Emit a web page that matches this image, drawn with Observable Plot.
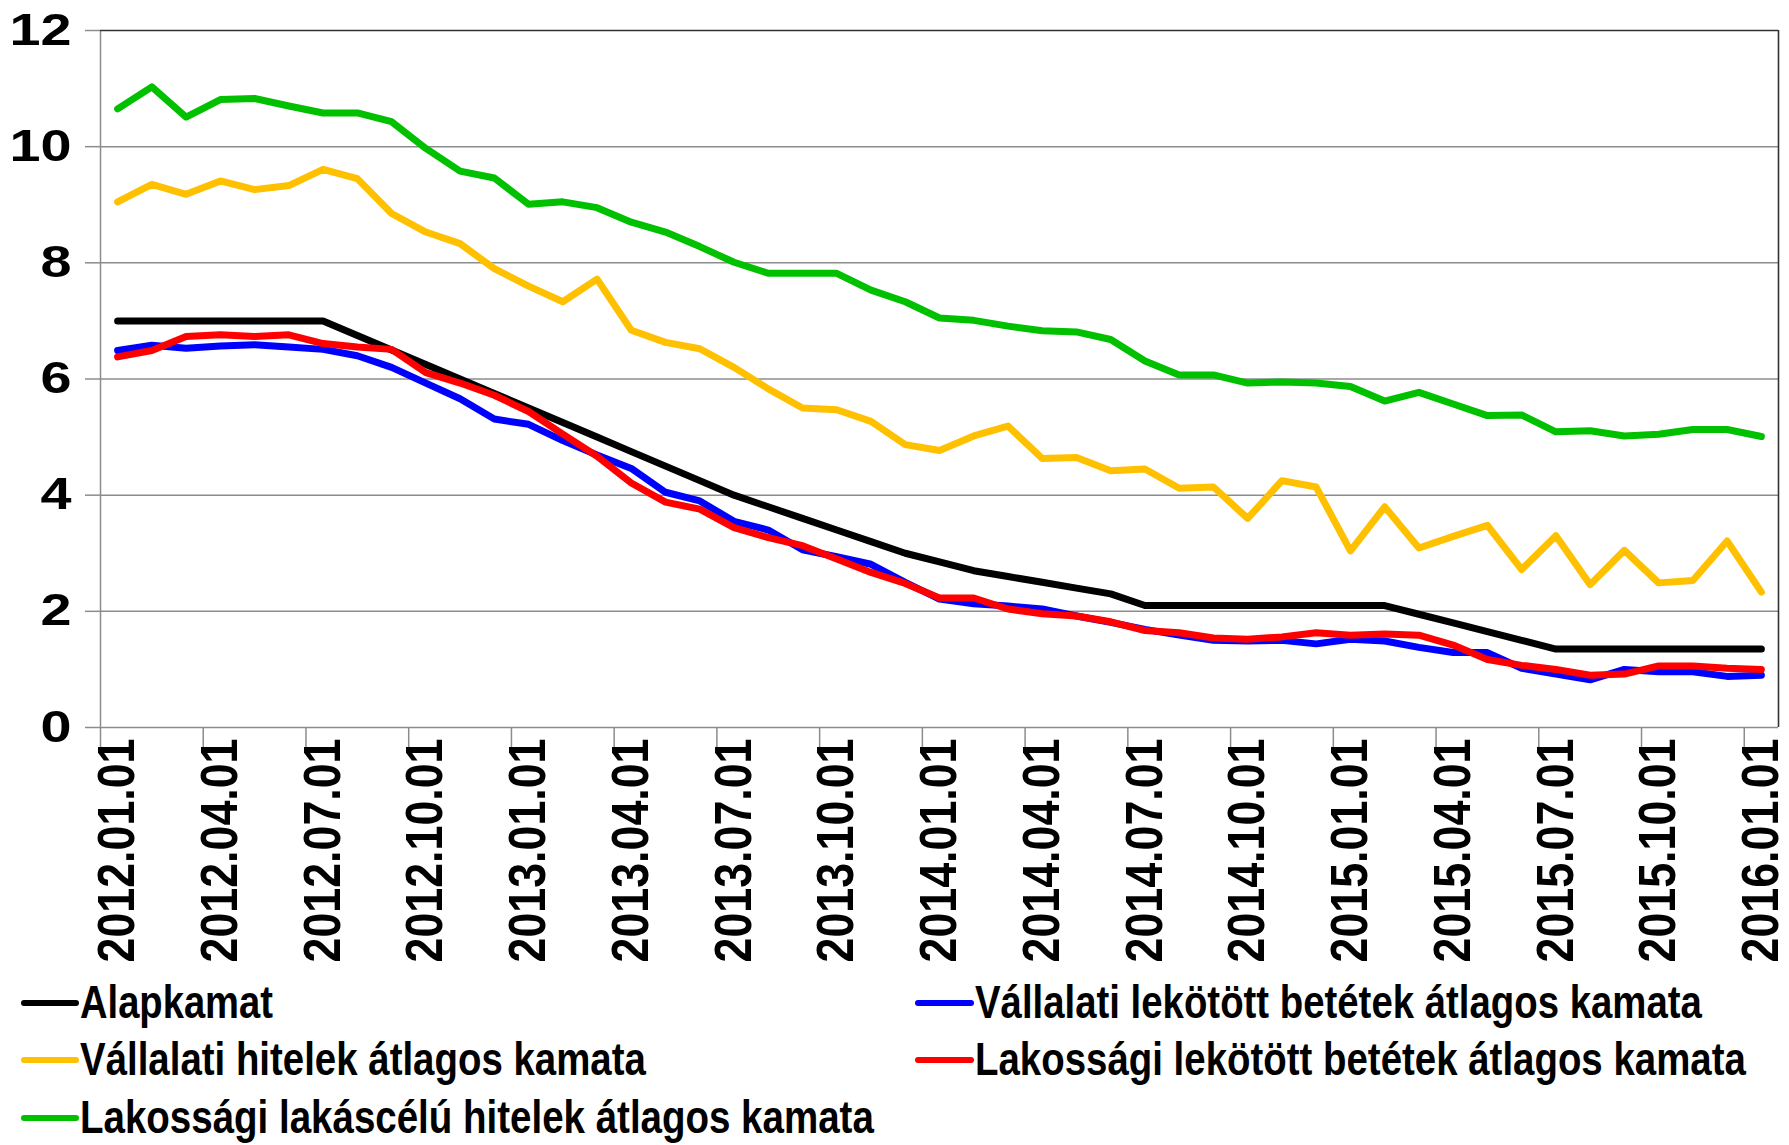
<!DOCTYPE html>
<html><head><meta charset="utf-8">
<script src="https://cdn.jsdelivr.net/npm/d3@7"></script>
<script src="https://cdn.jsdelivr.net/npm/@observablehq/plot@0.6"></script>
<style>
html,body{margin:0;padding:0;background:#fff;}
#chart svg, #legend svg{display:block}
</style></head><body><div id="chart"></div><div id="legend"></div><script>
const months = [
"2012.01.01","2012.02.01","2012.03.01","2012.04.01","2012.05.01","2012.06.01","2012.07.01","2012.08.01","2012.09.01","2012.10.01","2012.11.01","2012.12.01",
"2013.01.01","2013.02.01","2013.03.01","2013.04.01","2013.05.01","2013.06.01","2013.07.01","2013.08.01","2013.09.01","2013.10.01","2013.11.01","2013.12.01",
"2014.01.01","2014.02.01","2014.03.01","2014.04.01","2014.05.01","2014.06.01","2014.07.01","2014.08.01","2014.09.01","2014.10.01","2014.11.01","2014.12.01",
"2015.01.01","2015.02.01","2015.03.01","2015.04.01","2015.05.01","2015.06.01","2015.07.01","2015.08.01","2015.09.01","2015.10.01","2015.11.01","2015.12.01",
"2016.01.01"];
const tickLabels = ["2012.01.01","2012.04.01","2012.07.01","2012.10.01","2013.01.01","2013.04.01","2013.07.01","2013.10.01",
"2014.01.01","2014.04.01","2014.07.01","2014.10.01","2015.01.01","2015.04.01","2015.07.01","2015.10.01","2016.01.01"];
const yTicks = [0,2,4,6,8,10,12];

const seriesNames = ["Alapkamat","Vállalati lekötött betétek átlagos kamata","Vállalati hitelek átlagos kamata","Lakossági lekötött betétek átlagos kamata","Lakossági lakáscélú hitelek átlagos kamata"];
const seriesColors = ["#000000","#0000FF","#FFC000","#FF0000","#00C000"];

const alapkamat = [7,7,7,7,7,7,7,6.75,6.5,6.25,6.0,5.75,5.5,5.25,5.0,4.75,4.5,4.25,4.0,3.8,3.6,3.4,3.2,3.0,2.85,2.7,2.6,2.5,2.4,2.3,2.1,2.1,2.1,2.1,2.1,2.1,2.1,2.1,1.95,1.8,1.65,1.5,1.35,1.35,1.35,1.35,1.35,1.35,1.35];
const vallalatiBetet = [6.49,6.58,6.53,6.57,6.59,6.55,6.51,6.40,6.20,5.93,5.66,5.31,5.22,4.94,4.69,4.46,4.05,3.90,3.55,3.40,3.06,2.94,2.81,2.50,2.21,2.13,2.09,2.04,1.92,1.81,1.69,1.59,1.50,1.49,1.50,1.44,1.52,1.49,1.38,1.29,1.29,1.02,0.92,0.82,1.00,0.96,0.96,0.88,0.90];
const vallalatiHitel = [9.05,9.35,9.18,9.41,9.26,9.33,9.61,9.45,8.85,8.53,8.33,7.90,7.60,7.33,7.72,6.84,6.63,6.52,6.20,5.83,5.50,5.47,5.27,4.87,4.77,5.02,5.19,4.63,4.65,4.42,4.45,4.12,4.14,3.60,4.25,4.14,3.04,3.80,3.09,3.29,3.48,2.72,3.30,2.46,3.05,2.49,2.53,3.21,2.33];
const lakossagiBetet = [6.38,6.49,6.73,6.76,6.73,6.76,6.61,6.55,6.51,6.11,5.93,5.72,5.44,5.05,4.67,4.21,3.88,3.76,3.44,3.27,3.13,2.90,2.67,2.48,2.23,2.23,2.04,1.96,1.92,1.82,1.67,1.63,1.54,1.52,1.56,1.63,1.59,1.61,1.59,1.42,1.17,1.07,1.00,0.90,0.92,1.06,1.06,1.02,1.00];
const lakasHitel = [10.65,11.03,10.51,10.81,10.83,10.70,10.58,10.58,10.43,9.97,9.58,9.46,9.01,9.05,8.95,8.70,8.53,8.28,8.01,7.82,7.82,7.82,7.53,7.33,7.05,7.01,6.91,6.83,6.81,6.68,6.31,6.07,6.07,5.93,5.95,5.93,5.87,5.62,5.77,5.57,5.37,5.38,5.09,5.11,5.02,5.05,5.13,5.13,5.01];

const seriesValues = [alapkamat, vallalatiBetet, vallalatiHitel, lakossagiBetet, lakasHitel];
const rows = seriesNames.flatMap((name, s) => seriesValues[s].map((v, i) => ({i, month: months[i], v, name})));
const tickIdx = tickLabels.map(l => months.indexOf(l));
const edgeIdx = tickIdx.map(i => i - 0.5);

const FONT = "'Liberation Sans', Arial, Helvetica, sans-serif";
const GRID = "#8c8c8c";

const chart = Plot.plot({
  width: 1789, height: 970,
  marginLeft: 100, marginRight: 11, marginTop: 30, marginBottom: 243,
  x: {type: "linear", domain: [-0.5, months.length - 0.5]},
  y: {domain: [0, 12]},
  color: {domain: seriesNames, range: seriesColors},
  style: {fontFamily: FONT, fontWeight: "bold", background: "#fff", overflow: "visible"},
  marks: [
    Plot.ruleY([2,4,6,8,10], {stroke: GRID, strokeWidth: 1.5}),
    Plot.ruleY([0], {stroke: GRID, strokeWidth: 1.5}),
    Plot.ruleX([-0.5], {stroke: GRID, strokeWidth: 1.5}),
    Plot.ruleY([12], {stroke: "#333", strokeWidth: 1.6}),
    Plot.ruleX([months.length - 0.5], {stroke: "#333", strokeWidth: 1.6}),
    Plot.axisY({ticks: yTicks, tickFormat: d => String(d), tickSize: 15, tickPadding: 14, fontSize: 44, stroke: GRID, strokeWidth: 1.5, fill: "#000", label: null}),
    Plot.axisX({ticks: edgeIdx, tickFormat: () => "", tickSize: 22, stroke: GRID, strokeWidth: 1.5, label: null}),
    Plot.axisX({ticks: tickIdx, tickFormat: i => months[i], tickSize: 0, tickPadding: 11, tickRotate: -90, fontSize: 52, fill: "#000", label: null}),
    Plot.lineY(rows, {x: "i", y: "v", z: "name", stroke: "name", strokeWidth: 7, strokeLinejoin: "round", strokeLinecap: "round"})
  ]
});
document.getElementById("chart").appendChild(chart);

d3.select(chart).selectAll('g[aria-label="y-axis tick label"] text').each(function() {
  const t = this.textContent;
  this.setAttribute("textLength", 31 * t.length);
  this.setAttribute("lengthAdjust", "spacingAndGlyphs");
});
d3.select(chart).selectAll('g[aria-label="x-axis tick label"] text').each(function() {
  if (this.textContent.length > 0) {
    this.setAttribute("textLength", 224);
    this.setAttribute("lengthAdjust", "spacingAndGlyphs");
  }
});

// Legend
const legendItems = [
  {s: 0, col: 0, row: 0, len: 193},
  {s: 1, col: 1, row: 0, len: 727},
  {s: 2, col: 0, row: 1, len: 566},
  {s: 3, col: 1, row: 1, len: 771},
  {s: 4, col: 0, row: 2, len: 794}
];
const colX = [[24, 76, 80], [918, 971, 975]];
const rowBase = [48, 105, 163];
const lsvg = d3.select("#legend").append("svg").attr("width", 1789).attr("height", 175)
  .style("font-family", FONT).style("font-weight", "bold");
for (const it of legendItems) {
  const [x1, x2, tx] = colX[it.col];
  const by = rowBase[it.row];
  lsvg.append("line").attr("x1", x1).attr("x2", x2).attr("y1", by - 15).attr("y2", by - 15)
    .attr("stroke", seriesColors[it.s]).attr("stroke-width", 6).attr("stroke-linecap", "round");
  const t = lsvg.append("text").attr("x", 0).attr("y", 0).attr("font-size", 46)
    .text(seriesNames[it.s]);
  const nat = t.node().getComputedTextLength();
  const sx = it.len / nat;
  t.attr("transform", `translate(${tx},${by}) scale(${sx},1)`);
}
</script></body></html>
